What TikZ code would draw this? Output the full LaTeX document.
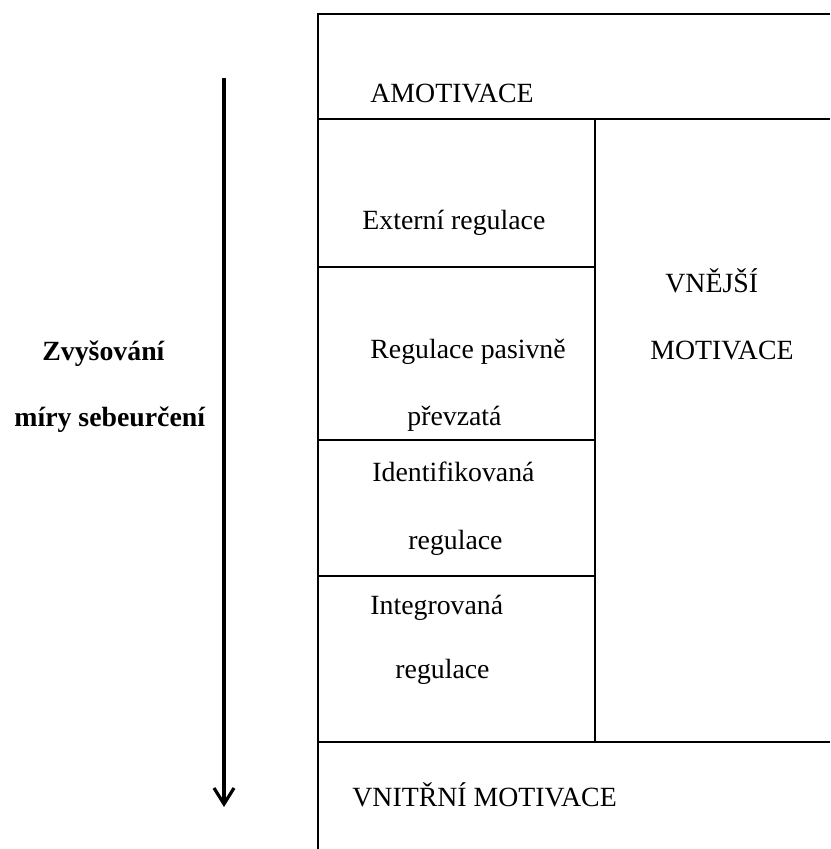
\documentclass[tikz,border=0pt]{standalone}
\usepackage{fontspec}
\setmainfont{Liberation Serif}
\usetikzlibrary{arrows.meta,positioning}
\begin{document}
\begin{tikzpicture}[x=0.5pt,y=-0.5pt,
		lbl/.style={anchor=base west,inner sep=0pt,font=\fontsize{13.9}{16}\selectfont},
		bold/.style={lbl,font=\fontsize{13.9}{16}\selectfont\bfseries},
		rule/.style={line width=0.9pt}]
		\useasboundingbox (0,0) rectangle (830,849);
		% frame
		\draw[rule] (830,14) -- (318,14) -- (318,849);
		\draw[rule] (318,119) -- (830,119);
		\draw[rule] (318,742) -- (830,742);
		\draw[rule] (595,119) -- (595,742);
		\foreach \y in {267,440,576}
		\draw[rule] (318,\y) -- (595,\y);
		% texts
		\node[lbl] (amot) at (370,103) {AMOTIVACE};
		\node[lbl] (ext) at (362,230) {Externí regulace};
		\node[lbl] (vne1) at (665,293) {VNĚJŠÍ};
		\node[lbl] (vne2) at (650,359) {MOTIVACE};
		\node[lbl] (pas1) at (370,358) {Regulace pasivně};
		\node[lbl] (pas2) at (407,425) {převzatá};
		\node[lbl] (idf1) at (372,481) {Identifikovaná};
		\node[lbl] (idf2) at (408,549) {regulace};
		\node[lbl] (int1) at (370,614) {Integrovaná};
		\node[lbl] (int2) at (395,678) {regulace};
		\node[lbl] (vnit) at (352,806) {VNITŘNÍ MOTIVACE};
		\node[bold] (zv1) at (42,360) {Zvyšování};
		\node[bold] (zv2) at (14,426) {míry sebeurčení};
		% arrow
		\coordinate (top) at (224,78);
		\coordinate (bot) at (224,807);
		\draw[line width=1.6pt,-{Straight Barb[length=8pt,width=10pt]}] (top) -- (bot);
	\end{tikzpicture}
\end{document}
